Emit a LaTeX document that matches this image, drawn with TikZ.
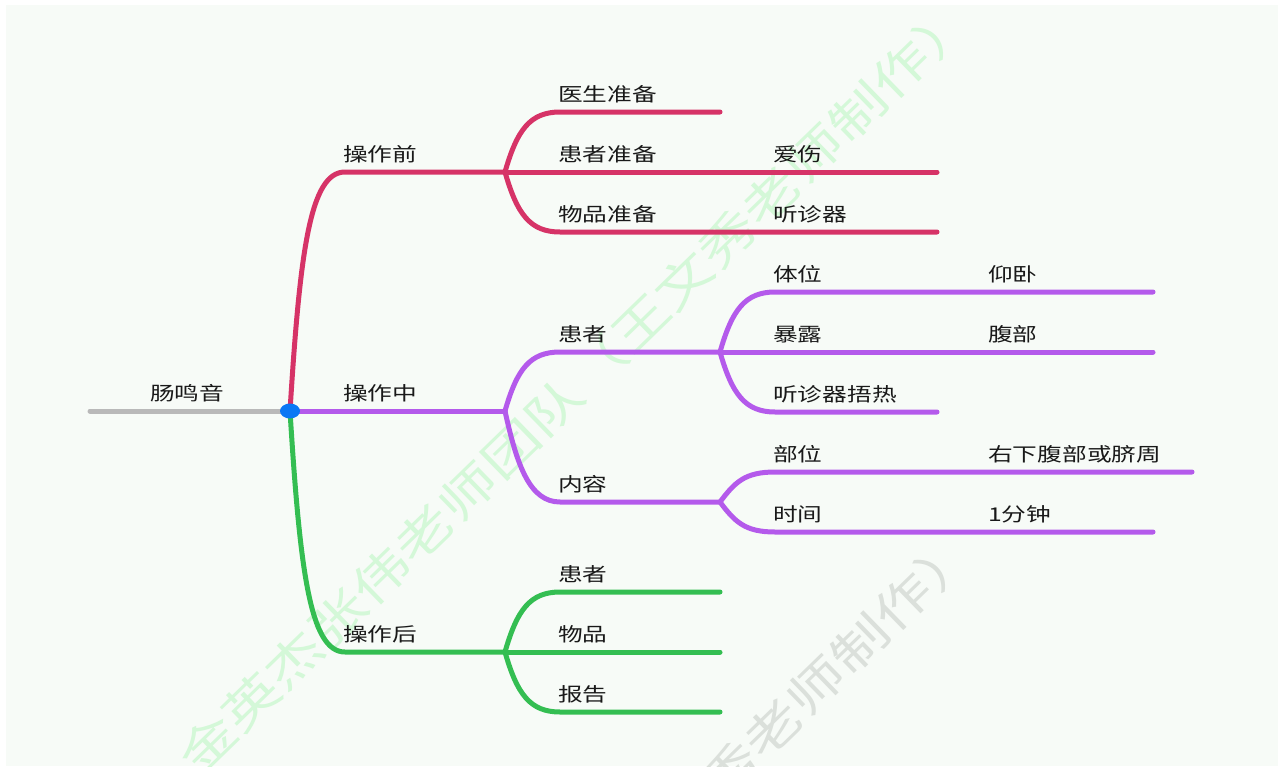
\documentclass[tikz,border=0pt]{standalone}
\usepackage{fontspec}
\setmainfont[FakeStretch=1.3]{Noto Sans CJK SC}
\definecolor{prered}{RGB}{214,51,103}
\definecolor{midpurple}{RGB}{180,90,235}
\definecolor{postgreen}{RGB}{52,190,82}
\definecolor{rootgray}{RGB}{185,185,185}
\definecolor{hubblue}{RGB}{10,120,245}
\definecolor{paper}{RGB}{247,251,247}
\definecolor{wmgreen}{RGB}{212,248,216}
\definecolor{wmgray}{RGB}{219,224,219}

\begin{document}
\begin{tikzpicture}[x=1pt,y=-1pt,
  every node/.style={font=\fontsize{19}{22}\selectfont,text=black!90,inner sep=0pt},
  br/.style={line width=5pt,line cap=round},
  lbl/.style={anchor=base west},
  wm/.style={rotate=44.2,font=\fontsize{46.5}{50}\selectfont}]
  \path[use as bounding box] (0,0) rectangle (1286,769);
  \fill[white] (0,0) rectangle (1286,769);
  \fill[paper] (6,5) rectangle (1278,766);

  % watermarks
  \begin{scope}
    \clip (6,5) rectangle (1278,766);
    \node[wm,text=wmgreen] (wm1) at (576,386) {金英杰张伟老师团队（王文秀老师制作）};
    \node[wm,text=wmgray] (wm2) at (578,918) {金英杰张伟老师团队（王文秀老师制作）};
  \end{scope}

  % hub and forks
  \coordinate (R) at (90,411);
  \coordinate (H) at (290,411);
  \coordinate (Fp) at (505,172);
  \coordinate (Fm) at (505,411);
  \coordinate (Fq) at (505,652);
  \coordinate (Fmp) at (720,352);
  \coordinate (Fmc) at (720,502);

  % root
  \draw[br,rootgray] (R) -- (H);

  % before
  \coordinate (pre) at (345,172);
  \coordinate (doc) at (560,112);
  \coordinate (doc-e) at (720,112);
  \coordinate (pat-e) at (720,172);
  \coordinate (care-e) at (937,172);
  \coordinate (itm) at (560,232);
  \coordinate (itm-e) at (720,232);
  \coordinate (steth-e) at (937,232);
  \draw[br,prered] (H) .. controls +(10,-160) and +(-35,0) .. (pre) -- (Fp);
  \draw[br,prered] (Fp) .. controls +(12,-42) and +(-30,0) .. (doc) -- (doc-e);
  \draw[br,prered] (Fp) -- (pat-e) -- (care-e);
  \draw[br,prered] (Fp) .. controls +(12,42) and +(-30,0) .. (itm) -- (itm-e) -- (steth-e);

  % during
  \coordinate (mp) at (560,352);
  \coordinate (mc) at (560,502);
  \coordinate (pos) at (775,292);
  \coordinate (pos-e) at (937,292);
  \coordinate (supine-e) at (1153,292);
  \coordinate (exp-e) at (937,352);
  \coordinate (abd-e) at (1153,352);
  \coordinate (warm) at (775,412);
  \coordinate (warm-e) at (937,412);
  \coordinate (site) at (775,472);
  \coordinate (site-e) at (937,472);
  \coordinate (rlq-e) at (1192,472);
  \coordinate (time) at (775,532);
  \coordinate (time-e) at (937,532);
  \coordinate (min-e) at (1153,532);
  \draw[br,midpurple] (H) -- (Fm);
  \draw[br,midpurple] (Fm) .. controls +(12,-42) and +(-30,0) .. (mp) -- (Fmp);
  \draw[br,midpurple] (Fm) .. controls +(12,55) and +(-30,0) .. (mc) -- (Fmc);
  \draw[br,midpurple] (Fmp) .. controls +(12,-42) and +(-30,0) .. (pos) -- (pos-e) -- (supine-e);
  \draw[br,midpurple] (Fmp) -- (exp-e) -- (abd-e);
  \draw[br,midpurple] (Fmp) .. controls +(12,42) and +(-30,0) .. (warm) -- (warm-e);
  \draw[br,midpurple] (Fmc) .. controls +(15,-20) and +(-30,0) .. (site) -- (site-e) -- (rlq-e);
  \draw[br,midpurple] (Fmc) .. controls +(15,20) and +(-30,0) .. (time) -- (time-e) -- (min-e);

  % after
  \coordinate (post) at (345,652);
  \coordinate (qp) at (560,592);
  \coordinate (qp-e) at (720,592);
  \coordinate (qi-e) at (720,652);
  \coordinate (qr) at (560,712);
  \coordinate (qr-e) at (720,712);
  \draw[br,postgreen] (H) .. controls +(10,160) and +(-35,0) .. (post) -- (Fq);
  \draw[br,postgreen] (Fq) .. controls +(12,-42) and +(-30,0) .. (qp) -- (qp-e);
  \draw[br,postgreen] (Fq) -- (qi-e);
  \draw[br,postgreen] (Fq) .. controls +(12,42) and +(-30,0) .. (qr) -- (qr-e);

  \fill[hubblue] (H) ellipse [x radius=10,y radius=7.5];

  % labels
  \node[lbl] (t-root) at (150,400) {肠鸣音};
  \node[lbl] (t-pre) at (343,161) {操作前};
  \node[lbl] (t-mid) at (343,400) {操作中};
  \node[lbl] (t-post) at (343,641) {操作后};
  \node[lbl] (t-doc) at (558,101) {医生准备};
  \node[lbl] (t-pat) at (558,161) {患者准备};
  \node[lbl] (t-itm) at (558,221) {物品准备};
  \node[lbl] (t-care) at (773,161) {爱伤};
  \node[lbl] (t-steth) at (773,221) {听诊器};
  \node[lbl] (t-mp) at (558,341) {患者};
  \node[lbl] (t-mc) at (558,491) {内容};
  \node[lbl] (t-pos) at (773,281) {体位};
  \node[lbl] (t-exp) at (773,341) {暴露};
  \node[lbl] (t-warm) at (773,401) {听诊器捂热};
  \node[lbl] (t-site) at (773,461) {部位};
  \node[lbl] (t-time) at (773,521) {时间};
  \node[lbl] (t-supine) at (988,281) {仰卧};
  \node[lbl] (t-abd) at (988,341) {腹部};
  \node[lbl] (t-rlq) at (988,461) {右下腹部或脐周};
  \node[lbl] (t-min) at (988,521) {1分钟};
  \node[lbl] (t-qp) at (558,581) {患者};
  \node[lbl] (t-qi) at (558,641) {物品};
  \node[lbl] (t-qr) at (558,701) {报告};
\end{tikzpicture}
\end{document}
